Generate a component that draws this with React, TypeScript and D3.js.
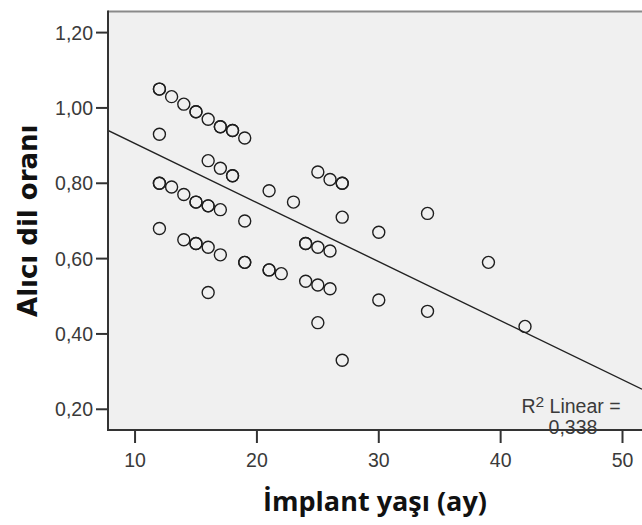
import React from 'react';
import {scaleLinear} from 'd3';

// implant age (months) and receptive language ratio, one entry per child
const ageMonths = [
    12, 12, 13, 14, 15, 15, 16, 17, 17, 18, 18, 19,
    12,
    16, 17, 18, 18,
    12, 12, 13, 14, 15, 15, 16, 16, 17, 19,
    12, 14, 15, 15, 16, 17, 19, 19, 21, 21, 22, 16,
    21, 23, 25, 26, 27, 27, 27,
    24, 24, 25, 26, 24, 25, 26, 25, 27,
    30, 34, 39, 30, 34, 42
];
const ratio = [
    1.05, 1.05, 1.03, 1.01, 0.99, 0.99, 0.97, 0.95, 0.95, 0.94, 0.94, 0.92,
    0.93,
    0.86, 0.84, 0.82, 0.82,
    0.80, 0.80, 0.79, 0.77, 0.75, 0.75, 0.74, 0.74, 0.73, 0.70,
    0.68, 0.65, 0.64, 0.64, 0.63, 0.61, 0.59, 0.59, 0.57, 0.57, 0.56, 0.51,
    0.78, 0.75, 0.83, 0.81, 0.80, 0.80, 0.71,
    0.64, 0.64, 0.63, 0.62, 0.54, 0.53, 0.52, 0.43, 0.33,
    0.67, 0.72, 0.59, 0.49, 0.46, 0.42
];

const xTicks = [10, 20, 30, 40, 50];
const yTicks = [0.2, 0.4, 0.6, 0.8, 1.0, 1.2];

// linear fit as shown on the chart
const fitIntercept = 1.062;
const fitSlope = -0.01567;
const rSquaredLabel = '0,338';

const W = 642;
const H = 525;
const left = 108;
const right = 642;
const top = 11.5;
const bottom = 430;

const App = () => {
    const xScale = scaleLinear().domain([7.78, 51.6]).range([left, right]);
    const yScale = scaleLinear().domain([0.145, 1.256]).range([bottom, top]);

    const fmt = (v: number) => v.toFixed(2).replace('.', ',');
    const [x0, x1] = xScale.domain();

    return (
        <svg width={W} height={H} style={{position: 'absolute', left: 0, top: 0, background: '#fff'}}>
            <defs>
                <clipPath id="plot">
                    <rect x={left} y={top} width={right - left} height={bottom - top} />
                </clipPath>
            </defs>
            <rect x={left} y={top} width={right - left} height={bottom - top} fill="#f0f0f0" />
            <line x1={left} x2={right} y1={top} y2={top} stroke="#8a8a8a" strokeWidth={2} />

            <g clipPath="url(#plot)">
                <line
                    x1={xScale(x0)} y1={yScale(fitIntercept + fitSlope * x0)}
                    x2={xScale(x1)} y2={yScale(fitIntercept + fitSlope * x1)}
                    stroke="#222" strokeWidth={1.4}
                />
                {ageMonths.map((a, i) => (
                    <circle key={i} cx={xScale(a)} cy={yScale(ratio[i])} r={6}
                        fill="none" stroke="#1e1e1e" strokeWidth={1.4} />
                ))}
            </g>

            <line x1={left} x2={left} y1={top - 1} y2={bottom + 1} stroke="#333" strokeWidth={2} />
            <line x1={left - 1} x2={right} y1={bottom} y2={bottom} stroke="#333" strokeWidth={2} />

            {yTicks.map(t => (
                <g key={t}>
                    <line x1={left - 12} x2={left} y1={yScale(t)} y2={yScale(t)} stroke="#333" strokeWidth={2} />
                    <text x={93} y={yScale(t)} dy="0.36em" textAnchor="end"
                        fontFamily="Liberation Sans, Arial" fontSize={19.5} fill="#3a3a3a">{fmt(t)}</text>
                </g>
            ))}
            {xTicks.map(t => (
                <g key={t}>
                    <line x1={xScale(t)} x2={xScale(t)} y1={bottom} y2={bottom + 13} stroke="#333" strokeWidth={2} />
                    <text x={xScale(t)} y={466.5} textAnchor="middle"
                        fontFamily="Liberation Sans, Arial" fontSize={19.5} fill="#3a3a3a">{t}</text>
                </g>
            ))}

            <text x={571} y={412.5} textAnchor="middle" fontFamily="Liberation Sans, Arial" fontSize={19.5} fill="#3a3a3a">
                R<tspan dy={-6} fontSize={15.5}>2</tspan><tspan dy={6}> Linear =</tspan>
            </text>
            <text x={573} y={434} textAnchor="middle" fontFamily="Liberation Sans, Arial" fontSize={19.5} fill="#3a3a3a">
                {rSquaredLabel}
            </text>

            <text x={(left + right) / 2} y={511} textAnchor="middle" fontFamily="Open Sans" fontWeight="bold"
                fontSize={27} fill="#111">İmplant yaşı (ay)</text>
            <text transform={`translate(37,${(top + bottom) / 2}) rotate(-90)`} textAnchor="middle"
                fontFamily="DejaVu Sans" fontWeight="bold" fontSize={26} fill="#111">Alıcı dil oranı</text>
        </svg>
    );
};

export default App;
